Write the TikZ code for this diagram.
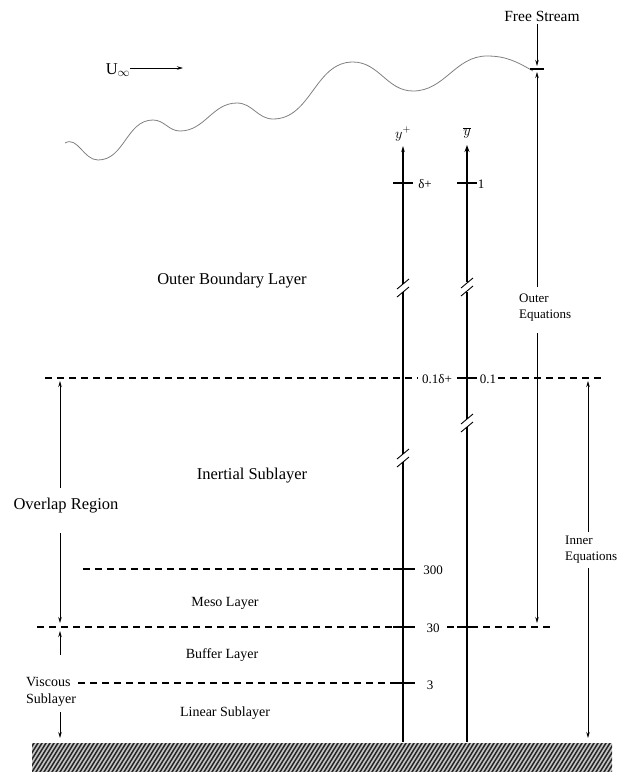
\documentclass[tikz,border=0pt]{standalone}
\usepackage{fontspec}
\setmainfont{Liberation Serif}
\usetikzlibrary{arrows.meta}
\begin{document}
\begin{tikzpicture}[x=1pt,y=-1pt,
  lbl/.style={font=\fontsize{16.5}{18}\selectfont, inner sep=0pt},
  mid/.style={font=\fontsize{14}{16}\selectfont, inner sep=0pt},
  small/.style={font=\fontsize{13}{16}\selectfont, inner sep=0pt},
  axisline/.style={line width=1.1pt},
  dline/.style={line width=1.1pt, dash pattern=on 7pt off 5pt},
  arr/.style={-{Stealth[length=6pt,width=3.5pt]}, line width=0.8pt},
  tk/.style={line width=1.1pt},
  brkmark/.pic={\draw[line width=0.9pt] (-6,1)--(6,-9); \draw[line width=0.9pt] (-6,9)--(6,-1);},
]
\useasboundingbox (0,0) rectangle (619,772);

% ground
\begin{scope}
\clip (32,743) rectangle (612,772);
\fill[gray!45] (32,743) rectangle (612,772);
\foreach \i in {16,20,...,620} \draw[line width=1.5pt, black!85] ({\i-5},780) -- ({\i+23},735);
\end{scope}

% wave
\draw[gray, line width=0.8pt] (65,143) to[out=30,in=180] (98,160) to[out=0,in=180] (153,120)
  to[out=0,in=180] (180,131) to[out=0,in=180] (237,103) to[out=0,in=180] (273,119)
  to[out=0,in=180] (353,62) to[out=0,in=180] (413,91) to[out=0,in=180] (487,56)
  to[out=0,in=150] (533,71);

% U infinity
\node[lbl] (uinf) at (118,70) {U$_{\infty}$};
\coordinate (uA) at (130,68); \coordinate (uB) at (183,68);
\draw[arr] (uA) -- (uB);

% Free stream
\node[font=\fontsize{15.5}{17}\selectfont, inner sep=0pt] (fs) at (542,16) {Free Stream};
\coordinate (fsTip) at (537,66);
\draw[arr] (fs.south -| fsTip) ++(0,3) coordinate (fsS) (fsS) -- (fsTip);
\coordinate (fsL) at (530,69); \coordinate (fsR) at (544,69);
\draw[tk] (fsL) -- (fsR);
\node[small, align=left, anchor=west] (oeq) at (519,308) {Outer\\Equations};
\coordinate (oeT) at (537,287); \coordinate (oeTip1) at (537,72);
\coordinate (oeB) at (537,333); \coordinate (oeTip2) at (537,623);
\draw[arr] (oeT) -- (oeTip1);
\draw[arr] (oeB) -- (oeTip2);

% inner equations
\node[small, align=left, anchor=west] (ieq) at (565,550) {Inner\\Equations};
\coordinate (ieT) at (588,532); \coordinate (ieTip1) at (588,381);
\coordinate (ieB) at (588,568); \coordinate (ieTip2) at (588,738);
\draw[arr] (ieT) -- (ieTip1);
\draw[arr] (ieB) -- (ieTip2);

% y+ axis
\node[mid] (yp) at (403,134) {$y^{+}$};
\coordinate (yp0) at (403,742); \coordinate (yp1) at (403,462);
\coordinate (yp2) at (403,454); \coordinate (yp3) at (403,292);
\coordinate (yp4) at (403,284); \coordinate (ypTip) at (403,146);
\draw[axisline] (yp0) -- (yp1);
\draw[axisline] (yp2) -- (yp3);
\draw[axisline, -{Stealth[length=6pt,width=3.5pt]}] (yp4) -- (ypTip);
\pic at (403,458) {brkmark};
\pic at (403,288) {brkmark};
\coordinate (dpL) at (393,183); \coordinate (dpR) at (413,183);
\draw[tk] (dpL) -- (dpR);
\node[small] (dp) at (425,184) {δ+};

% ybar axis
\node[mid] (yb) at (467,133) {$\overline{y}$};
\coordinate (yb0) at (467,742); \coordinate (yb1) at (467,427);
\coordinate (yb2) at (467,419); \coordinate (yb3) at (467,292);
\coordinate (yb4) at (467,282); \coordinate (ybTip) at (467,145);
\draw[axisline] (yb0) -- (yb1);
\draw[axisline] (yb2) -- (yb3);
\draw[line width=2.6pt, -{Stealth[length=7pt,width=5pt]}] (yb4) -- (ybTip);
\pic at (467,423) {brkmark};
\pic at (467,287) {brkmark};
\coordinate (onL) at (457,183); \coordinate (onR) at (477,183);
\draw[tk] (onL) -- (onR);
\node[small] (one) at (481,184) {1};

% top dashed line (0.1)
\coordinate (d1a) at (45,378); \coordinate (d1b) at (418,378);
\coordinate (d1c) at (498,378); \coordinate (d1d) at (601,378);
\draw[dline] (d1a) -- (d1b);
\draw[dline] (d1c) -- (d1d);
\node[small] (l01d) at (437,379) {0.1δ+};
\coordinate (t01L) at (457,378); \coordinate (t01R) at (477,378);
\draw[tk] (t01L) -- (t01R);
\node[small] (l01) at (488,379) {0.1};

% 300 line
\coordinate (d3a) at (83,569); \coordinate (d3b) at (393,569); \coordinate (d3c) at (415,569);
\draw[dline] (d3a) -- (d3b);
\draw[tk] (d3b) -- (d3c);
\node[small] (l300) at (433,570) {300};

% 30 line
\coordinate (d4a) at (37,627); \coordinate (d4b) at (393,627); \coordinate (d4c) at (415,627);
\coordinate (d4d) at (447,627); \coordinate (d4e) at (554,627);
\draw[dline] (d4a) -- (d4b);
\draw[tk] (d4b) -- (d4c);
\draw[dline] (d4d) -- (d4e);
\coordinate (t30L) at (457,627); \coordinate (t30R) at (477,627);
\draw[tk] (t30L) -- (t30R);
\node[small] (l30) at (433,628) {30};

% 3 line
\node[mid, anchor=base west] (visc) at (26,686) {Viscous};
\coordinate (d5a) at (78,683); \coordinate (d5b) at (393,683); \coordinate (d5c) at (415,683);
\draw[dline] (d5a) -- (d5b);
\draw[tk] (d5b) -- (d5c);
\node[small] (l3) at (430,685) {3};
\node[mid, anchor=west] (subl) at (26,700) {Sublayer};

% overlap region
\node[lbl] (ovl) at (66,506) {Overlap Region};
\coordinate (ovT) at (60,488); \coordinate (ovTip1) at (60,381);
\coordinate (ovB) at (60,533); \coordinate (ovTip2) at (60,623);
\draw[arr] (ovT) -- (ovTip1);
\draw[arr] (ovB) -- (ovTip2);
\coordinate (vsT) at (60,655); \coordinate (vsTip1) at (60,631);
\coordinate (vsB) at (60,712); \coordinate (vsTip2) at (60,738);
\draw[arr] (vsT) -- (vsTip1);
\draw[arr] (vsB) -- (vsTip2);

% layer labels
\node[lbl] (obl) at (232,281) {Outer Boundary Layer};
\node[lbl] (inl) at (252,476) {Inertial Sublayer};
\node[mid] (meso) at (225,603) {Meso Layer};
\node[mid] (buf) at (222,655) {Buffer Layer};
\node[mid] (lin) at (225,713) {Linear Sublayer};
\end{tikzpicture}
\end{document}
